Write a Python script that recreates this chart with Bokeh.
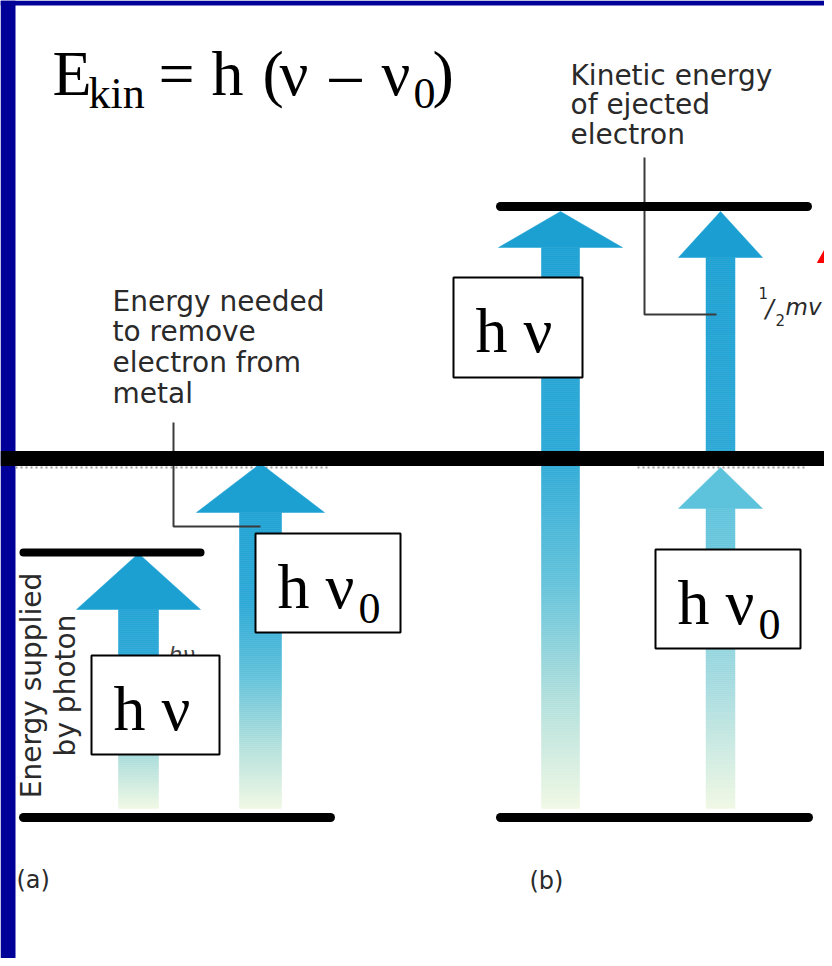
import numpy as np
from bokeh.plotting import figure
from bokeh.models import Range1d
from bokeh.embed import file_html
from bokeh.resources import INLINE
from bokeh.core.properties import value

# ---------------- data (screen-pixel coordinate system of the diagram) ----------------
# energy levels: x-start, x-end, y
level_x0 = [23, 23, 500, 500]
level_x1 = [330, 200, 807, 808]
level_y = [817, 552, 206, 817]
level_w = [9, 8, 9, 9]

# work-function (threshold) line across both panels
threshold_y = 458

# arrows: centre x, base y, tip y, head length, head half width, shaft half width
arrow_x = [138, 260, 560, 720, 720]
arrow_base = [808, 808, 808, 458, 808]
arrow_tip = [553, 463, 211, 211, 467]
arrow_head_len = [56, 49, 36, 46, 41]
arrow_head_half = [62, 64, 62, 42, 42]
arrow_shaft_half = [20, 21, 19, 14.5, 14.5]
full_stops = [(0.0, "#1a9fd2"), (0.40, "#2ba8d6"), (0.62, "#62c2da"), (0.82, "#b2e0dc"), (1.0, "#f0f8e4")]
ke_stops = [(0.0, "#1a9fd2"), (1.0, "#2ca8d6")]
low_stops = [(0.0, "#5ac2dc"), (0.30, "#6ec8dc"), (0.65, "#a8dce0"), (1.0, "#f0f8e4")]
arrow_stops = [full_stops, full_stops, full_stops, ke_stops, low_stops]

# boxed labels: left, top, right, bottom, main text, subscript
box_l = [91, 255, 453, 655]
box_t = [655, 533, 277, 549]
box_r = [219, 400, 582, 800]
box_b = [754, 632, 377, 648]
box_text = ["h ν", "h ν", "h ν", "h ν"]
box_sub = ["", "0", "", "0"]

# formula
f_text = ["E", "kin", "=", "h", "(", "ν", "–", "ν", "0", ")"]
f_x = [52, 88, 158, 211, 262, 279, 329, 381, 413, 432]
f_y = [95, 108, 95, 95, 95, 95, 95, 95, 108, 95]
f_size = [64, 44, 64, 64, 64, 64, 64, 64, 44, 64]

# annotation texts
needed_lines = ["Energy needed", "to remove", "electron from", "metal"]
needed_base = [311, 341, 372, 403]
kinetic_lines = ["Kinetic energy", "of ejected", "electron"]
kinetic_base = [85, 114, 144]
supplied_lines = ["Energy supplied", "by photon"]
supplied_x = [41, 75]

SERIF_MID = 0.34   # baseline -> em-box middle, Liberation Serif
SANS_MID = 0.35    # baseline -> em-box middle, DejaVu Sans


def hex2rgb(h):
    h = h.lstrip("#")
    return [int(h[i:i + 2], 16) for i in (0, 2, 4)]


def grad(stops, t):
    ts = [s[0] for s in stops]
    cols = np.array([hex2rgb(c) for _, c in stops], dtype=float)
    out = []
    for tt in np.atleast_1d(t):
        rgb = [int(round(np.interp(tt, ts, cols[:, k]))) for k in range(3)]
        out.append("#%02x%02x%02x" % tuple(rgb))
    return out


def mid(base, size, k):
    return [b - k * s for b, s in zip(base, size)]


W, H = 824, 958
p = figure(width=W, height=H, x_range=Range1d(0, W), y_range=Range1d(H, 0),
           output_backend="svg", toolbar_location=None, min_border=0,
           background_fill_color="white", border_fill_color="white",
           outline_line_color=None)
p.axis.visible = False
p.grid.visible = False

# slide frame (navy)
p.quad(left=[0, 0], right=[15, W], top=[0, 0], bottom=[H, 5],
       fill_color="#000099", line_color=None)

# faint dotted reference lines under the threshold line
p.segment(x0=[15, 637], x1=[328, 807], y0=[467, 467], y1=[467, 467],
          line_color="#9a9a9a", line_width=2, line_dash="2 3")

# arrows with vertical gradient
for i in range(len(arrow_x)):
    cx, base, tip = arrow_x[i], arrow_base[i], arrow_tip[i]
    hb = tip + arrow_head_len[i]
    length = base - tip
    edges = np.arange(hb, base, 2.0)
    tops = edges
    bots = np.minimum(edges + 2.0, base)
    tmid = ((tops + bots) / 2 - tip) / length
    cols = grad(arrow_stops[i], tmid)
    p.quad(left=cx - arrow_shaft_half[i], right=cx + arrow_shaft_half[i],
           top=tops, bottom=bots, fill_color=cols, line_color=cols, line_width=0.5)
    hcol = grad(arrow_stops[i], 0.05)[0]
    p.patch(x=[cx - arrow_head_half[i], cx, cx + arrow_head_half[i]],
            y=[hb, tip, hb], fill_color=hcol, line_color=hcol, line_width=0.5)

# leader lines
p.line(x=[173, 173, 260], y=[422, 526, 526], line_color="#3a3a3a", line_width=2)
p.line(x=[644, 644, 716], y=[157, 314, 314], line_color="#3a3a3a", line_width=2)

# energy levels
for i in range(len(level_y)):
    p.segment(x0=[level_x0[i]], x1=[level_x1[i]], y0=[level_y[i]], y1=[level_y[i]],
              line_color="black", line_width=level_w[i], line_cap="round")

# threshold line
p.segment(x0=[0], x1=[W], y0=[threshold_y], y1=[threshold_y], line_color="black", line_width=15)

# small original 'hν' label (mostly hidden by box)
p.text(x=[168], y=mid([662], [22], SANS_MID), text=["hν"], text_font=value("DejaVu Sans"),
       text_font_size="22px", text_font_style="italic", text_color="#444444",
       text_baseline="middle")

# boxes
p.quad(left=box_l, right=box_r, top=box_t, bottom=box_b,
       fill_color="white", line_color="black", line_width=2)
p.text(x=[l + 22 for l in box_l], y=mid([t + 75 for t in box_t], [64] * 4, SERIF_MID),
       text=box_text, text_font=value("Liberation Serif"), text_font_size="64px",
       text_baseline="middle", text_align="left", text_color="black")
sub_x = [l + 103 for l, s in zip(box_l, box_sub) if s]
sub_y = mid([t + 90 for t, s in zip(box_t, box_sub) if s], [44, 44], SERIF_MID)
p.text(x=sub_x, y=sub_y, text=[s for s in box_sub if s],
       text_font=value("Liberation Serif"), text_font_size="44px",
       text_baseline="middle", text_align="left", text_color="black")

# formula
p.text(x=f_x, y=mid(f_y, f_size, SERIF_MID), text=f_text, text_font=value("Liberation Serif"),
       text_font_size=["%dpx" % s for s in f_size], text_baseline="middle",
       text_align="left", text_color="black")

# annotations
p.text(x=[112] * len(needed_lines), y=mid(needed_base, [28] * 4, SANS_MID), text=needed_lines,
       text_font=value("DejaVu Sans"), text_font_size="28px", text_color="#2a2a2a",
       text_baseline="middle")
p.text(x=[570] * len(kinetic_lines), y=mid(kinetic_base, [28] * 3, SANS_MID), text=kinetic_lines,
       text_font=value("DejaVu Sans"), text_font_size="28px", text_color="#2a2a2a",
       text_baseline="middle")
p.text(x=mid(supplied_x, [28, 28], SANS_MID), y=[685, 685], text=supplied_lines, angle=np.pi / 2,
       text_font=value("DejaVu Sans"), text_font_size="28px", text_color="#2a2a2a",
       text_baseline="middle", text_align="center")

# 1/2 mv
p.text(x=[758], y=mid([298], [15], SANS_MID), text=["1"], text_font=value("DejaVu Sans"),
       text_font_size="15px", text_color="#2a2a2a", text_baseline="middle")
p.text(x=[765], y=mid([317], [24], SANS_MID), text=["/"], text_font=value("DejaVu Sans"),
       text_font_size="24px", text_font_style="italic", text_color="#2a2a2a", text_baseline="middle")
p.text(x=[775], y=mid([325], [15], SANS_MID), text=["2"], text_font=value("DejaVu Sans"),
       text_font_size="15px", text_color="#2a2a2a", text_baseline="middle")
p.text(x=[785], y=mid([315], [23], SANS_MID), text=["mv"], text_font=value("DejaVu Sans"),
       text_font_size="23px", text_font_style="italic", text_color="#2a2a2a", text_baseline="middle")

# panel labels
p.text(x=[16, 529], y=mid([888, 889], [24, 24], SANS_MID), text=["(a)", "(b)"],
       text_font=value("DejaVu Sans"), text_font_size="24px", text_color="#2a2a2a",
       text_baseline="middle")

# red pointer (partly outside the slide)
p.patch(x=[817, 852, 880], y=[262, 200, 262], fill_color="#ff0000", line_color="#ff0000")

open("out.html", "w").write(file_html(p, INLINE))
